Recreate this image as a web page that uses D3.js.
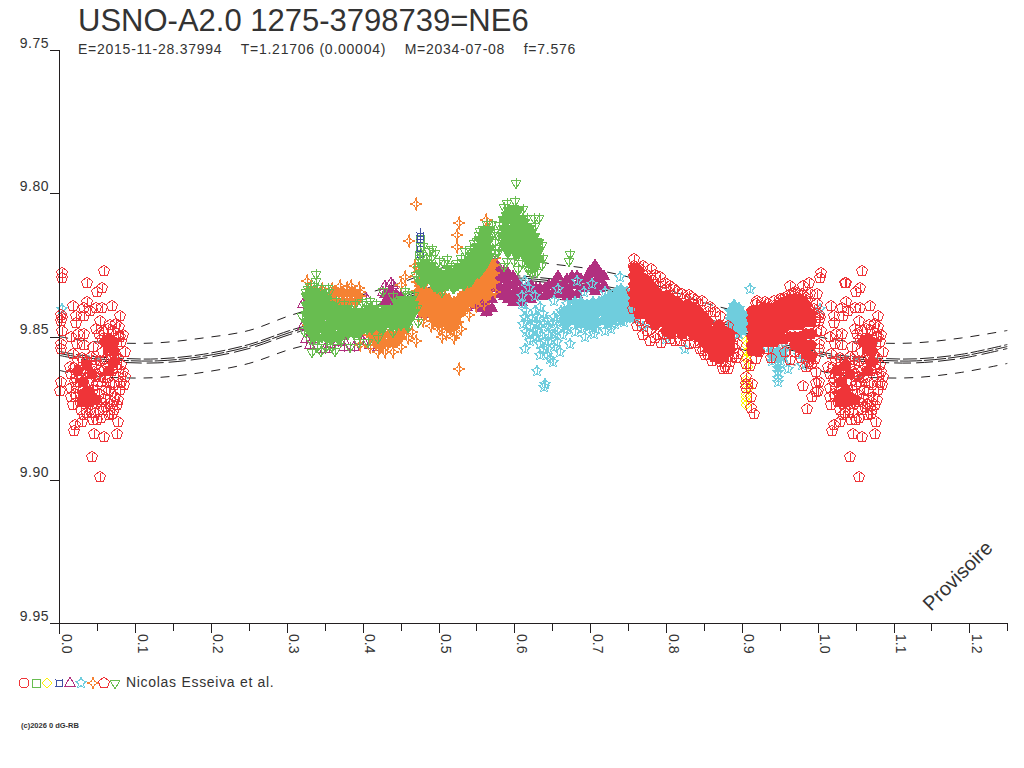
<!DOCTYPE html>
<html>
<head>
<meta charset="utf-8">
<title>USNO-A2.0 1275-3798739=NE6</title>
<script src="https://cdn.jsdelivr.net/npm/d3@7"></script>
<style>
body { margin: 0; background: #fff; }
text { font-family: "Liberation Sans", Arial, sans-serif; fill: #333; }
.mark { shape-rendering: crispEdges; stroke-width: 1; }
</style>
</head>
<body>
<div id="chart"></div>
<script>
// Texts and ticks
var title = "USNO-A2.0 1275-3798739=NE6";
var subtitle = "E=2015-11-28.37994    T=1.21706 (0.00004)    M=2034-07-08    f=7.576";
var author = "Nicolas Esseiva et al.";
var stamp = "(c)2026 0 dG-RB";
var watermark = "Provisoire";
var magTicks = [9.75, 9.80, 9.85, 9.90, 9.95];
var phaseTicks = [0, 0.1, 0.2, 0.3, 0.4, 0.5, 0.6, 0.7, 0.8, 0.9, 1.0, 1.1, 1.2];
var phaseMinorTicks = [0.05, 0.15, 0.25, 0.35, 0.45, 0.55, 0.65, 0.75, 0.85, 0.95, 1.05, 1.15, 1.25];

// Model curves, phase then magnitude
var modelPhase = [0, 0.03, 0.08, 0.13, 0.19, 0.25, 0.304, 0.35, 0.4, 0.45, 0.5, 0.55, 0.6, 0.65, 0.7, 0.75, 0.8, 0.85, 0.9, 0.95, 1];
var modelUpper = [9.85, 9.8514, 9.8523, 9.8522, 9.8505, 9.8479, 9.8427, 9.8392, 9.8354, 9.8313, 9.8264, 9.8236, 9.8229, 9.8247, 9.8264, 9.8292, 9.8333, 9.8382, 9.8417, 9.8462, 9.85];
var modelMidA = [9.8552, 9.8566, 9.8576, 9.8578, 9.8562, 9.8528, 9.8479, 9.8444, 9.8406, 9.8365, 9.8319, 9.8292, 9.8288, 9.8299, 9.8316, 9.8342, 9.8389, 9.8434, 9.8476, 9.8524, 9.8552];
var modelMidB = [9.8559, 9.8573, 9.8583, 9.8585, 9.8569, 9.8535, 9.8486, 9.8451, 9.8413, 9.8372, 9.8326, 9.8299, 9.8295, 9.8306, 9.8323, 9.8349, 9.8396, 9.8441, 9.8483, 9.8531, 9.8559];
var modelMidC = [9.8566, 9.858, 9.859, 9.8592, 9.8576, 9.8542, 9.8493, 9.8458, 9.842, 9.8379, 9.8333, 9.8306, 9.8302, 9.8313, 9.833, 9.8356, 9.8403, 9.8448, 9.849, 9.8538, 9.8566];
var modelLower = [9.8618, 9.8635, 9.8644, 9.8643, 9.8625, 9.8594, 9.8545, 9.8514, 9.8472, 9.8431, 9.8392, 9.8368, 9.8361, 9.8368, 9.8385, 9.8417, 9.8458, 9.85, 9.8545, 9.8586, 9.8618];

var squarePts = [[0.475, 9.8158], [0.476, 9.8184], [0.473, 9.8242], [0.474, 9.8215]];
var diamondPts = [[0.906, 9.8514], [0.906, 9.853], [0.907, 9.8555], [0.906, 9.857], [0.905, 9.858], [0.908, 9.8605], [0.906, 9.8653], [0.906, 9.8665], [0.909, 9.868], [0.906, 9.87], [0.905, 9.871], [0.906, 9.8725], [0.905, 9.874]];
var blueBoxPts = [[0.475, 9.815], [0.475, 9.8161], [0.475, 9.8196], [0.475, 9.8213]];
var trianglePts = [
  [0.388, 9.8537], [0.335, 9.851], [0.357, 9.8525], [0.321, 9.8385], [0.321, 9.8465], [0.537, 9.8398], [0.563, 9.8415],
  [0.404, 9.8365], [0.42, 9.8535], [0.427, 9.8345], [0.367, 9.852], [0.47, 9.8385], [0.375, 9.8515], [0.345, 9.8495], [0.4, 9.8515],
  [0.33, 9.853], [0.35, 9.8545], [0.375, 9.8535], [0.41, 9.853], [0.325, 9.851], [0.43, 9.8325], [0.44, 9.832], [0.437, 9.8315]
];
var starPts = [
  [0.641, 9.8665], [0.639, 9.8676], [0.63, 9.8622], [0.634, 9.8566], [0.647, 9.8578], [0.651, 9.8589], [0.643, 9.8566], [0.614, 9.8543],
  [0.66, 9.8555], [0.674, 9.8526], [0.693, 9.8503], [0.705, 9.8491], [0.61, 9.8387], [0.614, 9.8306], [0.619, 9.8329], [0.627, 9.8358],
  [0.658, 9.8335], [0.682, 9.8306], [0.702, 9.8317], [0.739, 9.8294], [0.61, 9.8358], [0.614, 9.8433], [0.621, 9.8468], [0.63, 9.848],
  [0.612, 9.8456], [0.619, 9.8491], [0.628, 9.8503], [0.636, 9.8497], [0.645, 9.8491], [0.654, 9.8491], [0.656, 9.852], [0.634, 9.8526],
  [0.621, 9.8514], [0.643, 9.8445], [0.652, 9.8433], [0.634, 9.8398], [0.627, 9.841], [0.662, 9.841], [0.669, 9.8387], [0.676, 9.8439],
  [0.691, 9.841], [0.698, 9.8462], [0.704, 9.8468], [0.717, 9.8445], [0.733, 9.8456], [0.753, 9.8422], [0.652, 9.8375], [0.63, 9.8433],
  [0.616, 9.841], [0.638, 9.8422], [0.656, 9.848], [0.911, 9.8335], [0.825, 9.8543], [0.933, 9.854], [0.945, 9.856], [0.955, 9.855],
  [0.948, 9.8625], [0.948, 9.8645], [0.948, 9.866], [0.961, 9.8612], [0.979, 9.86], [0.003, 9.8404], [0.891, 9.8393], [0.77, 9.8468],
  [0.776, 9.8455], [0.739, 9.844], [0.94, 9.8585], [0.952, 9.8585], [0.985, 9.857], [0.975, 9.8565], [0.692, 9.8345], [0.72, 9.8345],
  [0.748, 9.8345], [0.86, 9.8505], [0.855, 9.854], [0.8, 9.851], [0.617, 9.8445], [0.623, 9.8435], [0.628, 9.8455], [0.633, 9.8465],
  [0.639, 9.8455], [0.645, 9.8465], [0.65, 9.8455], [0.655, 9.8445], [0.66, 9.8425], [0.625, 9.8505], [0.64, 9.8515], [0.648, 9.8515],
  [0.664, 9.8495], [0.67, 9.8475], [0.68, 9.8485], [0.688, 9.8475], [0.616, 9.8485], [0.638, 9.8545], [0.645, 9.8545], [0.652, 9.8535],
  [0.72, 9.848], [0.728, 9.8475], [0.708, 9.8475], [0.745, 9.845]
];
var fourStarPts = [
  [0.47, 9.8036], [0.461, 9.8165], [0.527, 9.8103], [0.525, 9.8144], [0.524, 9.8188], [0.563, 9.8094], [0.527, 9.8614], [0.505, 9.85],
  [0.523, 9.849], [0.47, 9.8514], [0.465, 9.8485], [0.456, 9.8294], [0.379, 9.8329], [0.395, 9.8329], [0.326, 9.8306], [0.451, 9.832],
  [0.5, 9.8445], [0.515, 9.8475], [0.469, 9.8254], [0.397, 9.8345], [0.397, 9.8531], [0.455, 9.8465], [0.347, 9.8335], [0.33, 9.838],
  [0.335, 9.842], [0.34, 9.848], [0.328, 9.846], [0.345, 9.839], [0.55, 9.8205], [0.56, 9.8165], [0.567, 9.8125], [0.332, 9.8335],
  [0.338, 9.8345], [0.345, 9.8345], [0.35, 9.835], [0.47, 9.829], [0.474, 9.8275], [0.48, 9.8445], [0.49, 9.8465], [0.5, 9.8475],
  [0.51, 9.849], [0.52, 9.8505], [0.53, 9.8475], [0.54, 9.8425], [0.55, 9.8395], [0.56, 9.8385], [0.575, 9.8225], [0.575, 9.8345],
  [0.41, 9.8535], [0.42, 9.8555], [0.43, 9.8555], [0.44, 9.8555], [0.45, 9.8535], [0.46, 9.8505], [0.36, 9.8335], [0.37, 9.8325], [0.385, 9.8325]
];
var pentagonPts = [
  [0.004, 9.8277], [0.003, 9.8296], [0.059, 9.8273], [0.036, 9.8313], [0.037, 9.8315], [0.056, 9.8332], [0.05, 9.8345], [0.018, 9.8392],
  [0.037, 9.8381], [0.069, 9.8392], [0.002, 9.8425], [0.002, 9.8445], [0.003, 9.8435], [0.022, 9.843], [0.022, 9.8454], [0.033, 9.843],
  [0.032, 9.84], [0.04, 9.841], [0.049, 9.84], [0.056, 9.84], [0.08, 9.843], [0.054, 9.8445], [0.004, 9.848], [0.067, 9.846],
  [0.079, 9.8468], [0.032, 9.849], [0.024, 9.849], [0.016, 9.85], [0.002, 9.8525], [0.002, 9.8545], [0.002, 9.866], [0.001, 9.869],
  [0.021, 9.881], [0.019, 9.883], [0.03, 9.88], [0.046, 9.884], [0.059, 9.885], [0.076, 9.884], [0.077, 9.88], [0.043, 9.892],
  [0.054, 9.899], [0.05, 9.879], [0.055, 9.8785], [0.049, 9.8473], [0.075, 9.8458], [0.016, 9.8502], [0.023, 9.8525], [0.032, 9.8531],
  [0.045, 9.8537], [0.058, 9.8554], [0.073, 9.8572], [0.082, 9.86], [0.014, 9.8606], [0.016, 9.863], [0.021, 9.8658], [0.016, 9.871],
  [0.018, 9.874], [0.029, 9.8757], [0.036, 9.8768], [0.047, 9.8768], [0.058, 9.8757], [0.076, 9.874], [0.082, 9.8664], [0.08, 9.8687],
  [0.073, 9.871], [0.067, 9.8664], [0.061, 9.8687], [0.054, 9.8641], [0.016, 9.868], [0.047, 9.8583], [0.075, 9.86], [0.08, 9.8502],
  [0.082, 9.852], [0.066, 9.8549], [0.018, 9.856], [0.028, 9.8705], [0.041, 9.8755], [0.065, 9.8735], [0.084, 9.8625], [0.07, 9.877],
  [0.024, 9.8585], [0.03, 9.8575], [0.036, 9.859], [0.042, 9.857], [0.048, 9.86], [0.054, 9.8585], [0.02, 9.861], [0.028, 9.862],
  [0.034, 9.8615], [0.04, 9.863], [0.046, 9.8625], [0.052, 9.864], [0.058, 9.862], [0.022, 9.8645], [0.03, 9.865], [0.037, 9.866],
  [0.044, 9.8655], [0.05, 9.867], [0.056, 9.866], [0.06, 9.8645], [0.024, 9.868], [0.031, 9.869], [0.039, 9.8695], [0.045, 9.8685],
  [0.052, 9.87], [0.06, 9.8715], [0.066, 9.869], [0.072, 9.867], [0.021, 9.87], [0.027, 9.873], [0.034, 9.8735], [0.041, 9.8725],
  [0.048, 9.8735], [0.055, 9.873], [0.062, 9.8745], [0.07, 9.873], [0.033, 9.8775], [0.044, 9.879], [0.066, 9.8775], [0.072, 9.8755],
  [0.078, 9.872], [0.078, 9.864], [0.07, 9.862], [0.064, 9.861], [0.076, 9.861], [0.062, 9.858], [0.069, 9.8565], [0.078, 9.8575],
  [0.056, 9.851], [0.058, 9.848], [0.064, 9.8475], [0.071, 9.848], [0.077, 9.85], [0.052, 9.849], [0.086, 9.8555], [0.084, 9.8495],
  [0.085, 9.867], [0.086, 9.864],
  [0.758, 9.8231], [0.758, 9.8254], [0.766, 9.8265], [0.78, 9.8265], [0.792, 9.8294], [0.799, 9.8312], [0.805, 9.8323], [0.783, 9.8306],
  [0.821, 9.8352], [0.836, 9.8364], [0.847, 9.8375], [0.858, 9.8398], [0.871, 9.8427], [0.882, 9.8462], [0.889, 9.8502], [0.887, 9.8572],
  [0.882, 9.8612], [0.873, 9.859], [0.856, 9.8566], [0.849, 9.8549], [0.838, 9.8523], [0.812, 9.8514], [0.793, 9.8523], [0.779, 9.8514],
  [0.797, 9.8491], [0.766, 9.8445], [0.757, 9.8404], [0.755, 9.8341], [0.805, 9.8508], [0.827, 9.8497], [0.87, 9.8575], [0.885, 9.859],
  [0.878, 9.8605], [0.89, 9.854], [0.775, 9.848], [0.815, 9.8345], [0.83, 9.8355], [0.8, 9.8335], [0.842, 9.8385], [0.865, 9.8415],
  [0.762, 9.8465], [0.77, 9.8495], [0.785, 9.8505], [0.79, 9.8495], [0.81, 9.8485], [0.82, 9.8515], [0.83, 9.8525], [0.845, 9.8545],
  [0.852, 9.8565], [0.86, 9.8585], [0.865, 9.8565], [0.875, 9.8615], [0.892, 9.8575], [0.893, 9.8525], [0.895, 9.856], [0.77, 9.8255],
  [0.775, 9.8285], [0.785, 9.8285], [0.79, 9.8325], [0.81, 9.8335], [0.825, 9.8365], [0.84, 9.8375], [0.855, 9.8415],
  [0.92, 9.8375], [0.942, 9.8375], [0.957, 9.8381], [0.964, 9.8323], [0.98, 9.8323], [0.988, 9.8312], [0.968, 9.8352], [0.979, 9.8352],
  [0.99, 9.8352], [0.999, 9.8352], [0.999, 9.8387], [0.938, 9.8574], [0.963, 9.8583], [0.992, 9.8595], [0.998, 9.8624], [0.981, 9.8673],
  [0.992, 9.8711], [0.986, 9.8754], [0.9979, 9.8664], [0.9979, 9.8693], [0.985, 9.856], [0.996, 9.8578], [0.913, 9.8537], [0.985, 9.8607],
  [0.906, 9.8595], [0.911, 9.8604], [0.905, 9.864], [0.905, 9.8665], [0.905, 9.868], [0.913, 9.8665], [0.912, 9.871], [0.912, 9.875],
  [0.916, 9.877], [0.93, 9.838], [0.95, 9.837], [0.973, 9.8365], [0.984, 9.8365], [0.991, 9.8415], [0.997, 9.8445], [0.998, 9.8485],
  [0.918, 9.8385], [0.926, 9.8395], [0.935, 9.8385], [0.946, 9.8385], [0.955, 9.8365], [0.962, 9.8355], [0.97, 9.8345], [0.975, 9.835],
  [0.986, 9.8375], [0.995, 9.8405], [0.922, 9.8555], [0.918, 9.858], [0.934, 9.8545], [0.97, 9.8555], [0.978, 9.8575], [0.988, 9.859],
  [0.993, 9.8565], [0.957, 9.8555]
];
var invTrianglePts = [
  [0.602, 9.7965], [0.601, 9.8026], [0.586, 9.8048], [0.611, 9.8055], [0.626, 9.8086], [0.633, 9.8086], [0.594, 9.8074], [0.612, 9.8098],
  [0.578, 9.8145], [0.62, 9.8142], [0.673, 9.8213], [0.672, 9.8236], [0.62, 9.8268], [0.587, 9.8254], [0.605, 9.8265], [0.623, 9.828],
  [0.637, 9.825], [0.578, 9.8205], [0.491, 9.8196], [0.496, 9.8208], [0.48, 9.8184], [0.487, 9.8202], [0.511, 9.8231], [0.535, 9.8202],
  [0.544, 9.8208], [0.564, 9.8109], [0.555, 9.8132], [0.551, 9.8167], [0.57, 9.8109], [0.504, 9.8346], [0.52, 9.8329], [0.339, 9.8283],
  [0.339, 9.8306], [0.333, 9.8555], [0.345, 9.855], [0.364, 9.855], [0.383, 9.8537], [0.407, 9.852], [0.427, 9.834], [0.456, 9.834],
  [0.354, 9.8332], [0.328, 9.8335], [0.46, 9.8468], [0.399, 9.838], [0.405, 9.8387], [0.352, 9.8535], [0.372, 9.8515], [0.475, 9.8225],
  [0.478, 9.8215], [0.484, 9.8225], [0.49, 9.8225], [0.5, 9.8235], [0.507, 9.8245], [0.516, 9.8255], [0.525, 9.8245], [0.53, 9.8225],
  [0.541, 9.8195], [0.547, 9.8175], [0.553, 9.8145], [0.559, 9.8125], [0.566, 9.8125], [0.573, 9.8135], [0.575, 9.817], [0.575, 9.821],
  [0.473, 9.8265], [0.473, 9.83], [0.47, 9.8285], [0.325, 9.8345], [0.33, 9.8325], [0.336, 9.8325], [0.345, 9.833], [0.355, 9.8345],
  [0.365, 9.8375], [0.375, 9.8385], [0.39, 9.8385], [0.41, 9.8375], [0.418, 9.8385], [0.44, 9.836], [0.46, 9.835], [0.468, 9.8355],
  [0.472, 9.84], [0.473, 9.845], [0.44, 9.8485], [0.42, 9.8505], [0.395, 9.852], [0.36, 9.8535], [0.34, 9.8535], [0.33, 9.851],
  [0.322, 9.848], [0.32, 9.843], [0.58, 9.811], [0.583, 9.815], [0.58, 9.819], [0.59, 9.8235], [0.6, 9.8235], [0.61, 9.8245],
  [0.618, 9.8265], [0.63, 9.8275], [0.638, 9.8225], [0.636, 9.818], [0.627, 9.8115], [0.617, 9.8085], [0.59, 9.8035]
];

// Saturated regions where symbols pile up, as [phase, [mags]]
var triangleBlobs = [
  [0.43, [9.835, 9.838]], [0.437, [9.834, 9.837]], [0.444, [9.835, 9.838]], [0.45, [9.836]], [0.478, [9.839, 9.842]], [0.484, [9.839, 9.841]],
  [0.552, [9.836, 9.839]], [0.558, [9.835, 9.838, 9.84]], [0.564, [9.836, 9.839, 9.841]], [0.57, [9.837, 9.84]],
  [0.574, [9.824, 9.827, 9.83, 9.833]], [0.58, [9.826, 9.829, 9.832, 9.835]], [0.586, [9.827, 9.83, 9.833, 9.836]], [0.592, [9.828, 9.831, 9.834, 9.837]],
  [0.598, [9.829, 9.832, 9.835, 9.838]], [0.604, [9.831, 9.834, 9.837]], [0.61, [9.833, 9.836, 9.838]], [0.616, [9.833, 9.836]], [0.622, [9.832, 9.835, 9.837]],
  [0.628, [9.833, 9.836]], [0.634, [9.833, 9.836]], [0.64, [9.833, 9.836]], [0.646, [9.832, 9.835]], [0.652, [9.831, 9.834]], [0.658, [9.829, 9.832, 9.835]],
  [0.664, [9.832, 9.835]], [0.67, [9.83, 9.833, 9.836]], [0.676, [9.829, 9.832, 9.835]], [0.682, [9.829, 9.832, 9.835]], [0.688, [9.83, 9.833]],
  [0.694, [9.83, 9.833]], [0.7, [9.827, 9.83, 9.833]], [0.706, [9.825, 9.828, 9.831, 9.834]], [0.712, [9.827, 9.83, 9.833]], [0.718, [9.829, 9.832]]
];
var starBlobs = [
  [0.664, [9.842, 9.845]], [0.672, [9.84, 9.843]], [0.68, [9.838, 9.841, 9.844]], [0.688, [9.838, 9.841, 9.844]], [0.696, [9.839, 9.842, 9.845]],
  [0.704, [9.838, 9.841, 9.844]], [0.712, [9.838, 9.841]], [0.72, [9.837, 9.84, 9.843]], [0.728, [9.836, 9.839, 9.842]], [0.736, [9.834, 9.837, 9.84, 9.842]],
  [0.744, [9.835, 9.838, 9.841]], [0.752, [9.836, 9.839, 9.842]], [0.76, [9.84, 9.844]], [0.884, [9.841, 9.844, 9.847]], [0.89, [9.839, 9.842, 9.845, 9.848]],
  [0.896, [9.84, 9.843, 9.846, 9.849]], [0.902, [9.842, 9.845, 9.848]], [0.907, [9.843, 9.847]], [0.94, [9.855, 9.857]], [0.948, [9.855, 9.858, 9.861]],
  [0.956, [9.855, 9.857]], [0.982, [9.853, 9.857]], [0.99, [9.853]],
  [0.668, [9.8435, 9.8465]], [0.676, [9.8415, 9.8445]], [0.684, [9.8395, 9.8425, 9.8455]], [0.692, [9.8395, 9.8425, 9.8455]], [0.7, [9.8405, 9.8435, 9.8465]],
  [0.708, [9.8395, 9.8425, 9.8455]], [0.716, [9.8385, 9.8415, 9.8445]], [0.724, [9.8375, 9.8405, 9.8435, 9.8455]], [0.732, [9.8365, 9.8395, 9.8425, 9.8445]],
  [0.74, [9.8335, 9.8365, 9.8395, 9.8425, 9.8445]], [0.748, [9.8345, 9.8375, 9.8405, 9.8435]], [0.756, [9.8375, 9.8405, 9.8435]]
];
var fourStarBlobs = [
  [0.355, [9.836, 9.838]], [0.362, [9.835, 9.838]], [0.369, [9.835, 9.838]], [0.376, [9.835, 9.838]], [0.383, [9.835, 9.838]], [0.39, [9.835, 9.838]], [0.396, [9.836]],
  [0.412, [9.85]], [0.418, [9.85, 9.853]], [0.424, [9.85, 9.853]], [0.43, [9.849, 9.852]], [0.436, [9.849, 9.852]], [0.442, [9.85, 9.852]], [0.448, [9.849, 9.851]], [0.454, [9.848]],
  [0.472, [9.831, 9.834, 9.837, 9.84]], [0.478, [9.832, 9.835, 9.838, 9.841]], [0.484, [9.834, 9.837, 9.84, 9.842]], [0.49, [9.834, 9.837, 9.84, 9.843]],
  [0.496, [9.835, 9.838, 9.841, 9.844]], [0.502, [9.835, 9.838, 9.841, 9.844]], [0.508, [9.836, 9.839, 9.842, 9.845]], [0.514, [9.837, 9.84, 9.843, 9.846]],
  [0.52, [9.838, 9.841, 9.844, 9.847]], [0.526, [9.837, 9.84, 9.843, 9.845]], [0.532, [9.835, 9.838, 9.841]], [0.538, [9.833, 9.836, 9.839]], [0.544, [9.832, 9.835, 9.838]],
  [0.55, [9.83, 9.833, 9.836]], [0.556, [9.829, 9.832, 9.835]], [0.562, [9.827, 9.83, 9.833, 9.836]], [0.568, [9.826, 9.829, 9.832, 9.835]], [0.573, [9.825, 9.828, 9.831]],
  [0.475, [9.8325, 9.8355, 9.8385, 9.8415]], [0.481, [9.8335, 9.8365, 9.8395, 9.8425]], [0.487, [9.8355, 9.8385, 9.8415]], [0.493, [9.8365, 9.8395, 9.8425, 9.8445]],
  [0.499, [9.8365, 9.8395, 9.8425, 9.8455]], [0.505, [9.8375, 9.8405, 9.8435, 9.8455]], [0.511, [9.8385, 9.8415, 9.8445, 9.8465]], [0.517, [9.8385, 9.8415, 9.8445, 9.8475]],
  [0.523, [9.8395, 9.8425, 9.8455]], [0.529, [9.8365, 9.8395, 9.8425]], [0.535, [9.8345, 9.8375, 9.8405]], [0.541, [9.8335, 9.8365]], [0.547, [9.8315, 9.8345, 9.8375]],
  [0.553, [9.8305, 9.8335, 9.8365]], [0.559, [9.8285, 9.8315, 9.8345]], [0.565, [9.8265, 9.8295, 9.8325, 9.8355]], [0.571, [9.8255, 9.8285, 9.8315]],
  [0.3585, [9.8355, 9.8375]], [0.3655, [9.8345, 9.8375]], [0.3725, [9.8345, 9.8375]], [0.3795, [9.8345, 9.8375]], [0.3865, [9.8345, 9.8375]], [0.393, [9.8355, 9.8375]],
  [0.408, [9.8495]], [0.415, [9.8485, 9.8515]], [0.421, [9.8495, 9.8525]], [0.427, [9.8495, 9.8525]], [0.433, [9.8495, 9.8525]], [0.439, [9.8495, 9.8515]],
  [0.445, [9.8495, 9.8515]], [0.451, [9.8485, 9.8505]], [0.458, [9.8475]]
];
var pentagonBlobs = [
  [0.025, [9.862]], [0.03, [9.873]], [0.031, [9.866, 9.87]], [0.037, [9.86, 9.869, 9.873]], [0.043, [9.863, 9.871]], [0.049, [9.872]], [0.06, [9.852]], [0.066, [9.851, 9.854, 9.862]], [0.072, [9.852, 9.855, 9.859]],
  [0.758, [9.826, 9.829, 9.832, 9.835, 9.838]], [0.765, [9.827, 9.83, 9.833, 9.836, 9.839, 9.842]], [0.772, [9.83, 9.833, 9.836, 9.839, 9.842]], [0.779, [9.832, 9.835, 9.838, 9.841, 9.844]],
  [0.786, [9.834, 9.837, 9.84, 9.843, 9.846]], [0.793, [9.836, 9.839, 9.842, 9.845]], [0.8, [9.836, 9.839, 9.842, 9.845, 9.848]], [0.807, [9.837, 9.84, 9.843, 9.846, 9.849]],
  [0.814, [9.838, 9.841, 9.844, 9.847]], [0.821, [9.84, 9.843, 9.846, 9.849]], [0.828, [9.839, 9.842, 9.845, 9.848]], [0.835, [9.84, 9.843, 9.846, 9.849]],
  [0.842, [9.841, 9.844, 9.847, 9.85]], [0.849, [9.843, 9.846, 9.849, 9.852]], [0.856, [9.845, 9.848, 9.851, 9.854]], [0.863, [9.848, 9.851, 9.854, 9.857]],
  [0.87, [9.846, 9.849, 9.852, 9.855, 9.858]], [0.877, [9.848, 9.851, 9.854, 9.857]], [0.884, [9.849, 9.852, 9.855]],
  [0.914, [9.841, 9.844, 9.847, 9.85, 9.853, 9.855]], [0.921, [9.841, 9.844, 9.847, 9.85, 9.853, 9.855]], [0.928, [9.84, 9.843, 9.846, 9.849, 9.852]], [0.935, [9.84, 9.843, 9.846, 9.849, 9.852]],
  [0.942, [9.84, 9.843, 9.846, 9.849, 9.852]], [0.949, [9.839, 9.842, 9.845, 9.848, 9.851]], [0.956, [9.838, 9.841, 9.844, 9.847, 9.851]], [0.963, [9.837, 9.84, 9.843, 9.846, 9.85]],
  [0.97, [9.837, 9.84, 9.843, 9.846, 9.85, 9.853]], [0.977, [9.837, 9.84, 9.843, 9.846, 9.85, 9.854]], [0.984, [9.839, 9.842, 9.845, 9.849, 9.853, 9.856]], [0.991, [9.842, 9.845, 9.849, 9.853, 9.857]]
];
var invTriangleBlobs = [
  [0.325, [9.836, 9.839, 9.842, 9.845]], [0.332, [9.834, 9.837, 9.84, 9.843, 9.846, 9.849]], [0.339, [9.834, 9.837, 9.84, 9.843, 9.846, 9.849]], [0.346, [9.835, 9.838, 9.841, 9.844, 9.847, 9.85]],
  [0.353, [9.837, 9.84, 9.843, 9.846, 9.849, 9.851]], [0.36, [9.839, 9.842, 9.845, 9.848, 9.851]], [0.367, [9.84, 9.843, 9.846, 9.849, 9.851]], [0.374, [9.84, 9.843, 9.846, 9.849]],
  [0.381, [9.84, 9.843, 9.846, 9.849]], [0.388, [9.841, 9.844, 9.847, 9.849]], [0.395, [9.841, 9.844, 9.847, 9.849]], [0.402, [9.841, 9.844, 9.847]], [0.409, [9.84, 9.843, 9.846]],
  [0.416, [9.84, 9.843, 9.846]], [0.423, [9.841, 9.844, 9.847]], [0.43, [9.84, 9.843, 9.846]], [0.437, [9.84, 9.843, 9.846]], [0.444, [9.838, 9.841, 9.844, 9.846]],
  [0.451, [9.837, 9.84, 9.843, 9.846]], [0.458, [9.837, 9.84, 9.843, 9.846]], [0.465, [9.837, 9.84, 9.843]],
  [0.477, [9.825, 9.828, 9.831]], [0.484, [9.824, 9.827, 9.83]], [0.491, [9.825, 9.828, 9.831]], [0.498, [9.827, 9.83, 9.833]], [0.505, [9.828, 9.831, 9.833]], [0.512, [9.826, 9.829, 9.832]],
  [0.519, [9.827, 9.83, 9.833]], [0.526, [9.826, 9.829, 9.832]], [0.533, [9.824, 9.827, 9.83, 9.832]], [0.54, [9.823, 9.826, 9.829, 9.831]], [0.547, [9.82, 9.823, 9.826, 9.829]],
  [0.554, [9.816, 9.819, 9.822, 9.825, 9.828]], [0.561, [9.813, 9.816, 9.819, 9.822, 9.825]], [0.568, [9.813, 9.816, 9.819, 9.822]],
  [0.585, [9.809, 9.812, 9.815, 9.818]], [0.592, [9.806, 9.809, 9.812, 9.815, 9.818, 9.821]], [0.599, [9.805, 9.808, 9.811, 9.814, 9.817, 9.82]], [0.606, [9.806, 9.809, 9.812, 9.815, 9.818, 9.821]],
  [0.613, [9.81, 9.813, 9.816, 9.819, 9.822]], [0.62, [9.812, 9.815, 9.818, 9.821, 9.824]], [0.627, [9.815, 9.818, 9.821, 9.824, 9.826]], [0.632, [9.817, 9.82, 9.823]],
  [0.3285, [9.8355, 9.8385, 9.8415, 9.8445, 9.8475]], [0.3355, [9.8355, 9.8385, 9.8415, 9.8445, 9.8475, 9.8505]], [0.3425, [9.8355, 9.8385, 9.8415, 9.8445, 9.8475, 9.8505]],
  [0.3495, [9.8365, 9.8395, 9.8425, 9.8455, 9.8485]], [0.3565, [9.8385, 9.8415, 9.8445, 9.8475, 9.8505]], [0.3635, [9.8405, 9.8435, 9.8465, 9.8495]], [0.3705, [9.8415, 9.8445, 9.8475, 9.8505]],
  [0.3775, [9.8415, 9.8445, 9.8475]], [0.3845, [9.8415, 9.8445, 9.8475]], [0.3915, [9.8425, 9.8455, 9.8485]], [0.3985, [9.8425, 9.8455]], [0.4055, [9.8415, 9.8445, 9.8475]],
  [0.4125, [9.8415, 9.8445, 9.8475]], [0.4195, [9.8425, 9.8455]], [0.4265, [9.8415, 9.8445, 9.8475]], [0.4335, [9.8415, 9.8445]], [0.4405, [9.8405, 9.8435, 9.8465]],
  [0.4475, [9.8385, 9.8415, 9.8445]], [0.4545, [9.8385, 9.8415, 9.8445]], [0.4615, [9.8385, 9.8415, 9.8445]], [0.468, [9.8385, 9.8415]],
  [0.4805, [9.8255, 9.8285, 9.8315]], [0.4875, [9.8265, 9.8295]], [0.4945, [9.8265, 9.8295, 9.8325]], [0.5015, [9.8295, 9.8325]], [0.5085, [9.8285, 9.8315]], [0.5155, [9.8285, 9.8315]],
  [0.5225, [9.8275, 9.8305]], [0.5295, [9.8255, 9.8285, 9.8315]], [0.5365, [9.8245, 9.8275, 9.8305]], [0.5435, [9.8215, 9.8245, 9.8275, 9.8305]], [0.5505, [9.8185, 9.8215, 9.8245, 9.8275]],
  [0.5575, [9.8145, 9.8175, 9.8205, 9.8235, 9.8265]], [0.5645, [9.8145, 9.8175, 9.8205, 9.8235]],
  [0.5885, [9.8075, 9.8105, 9.8135, 9.8165, 9.8195]], [0.5955, [9.8065, 9.8095, 9.8125, 9.8155, 9.8185]], [0.6025, [9.8065, 9.8095, 9.8125, 9.8155, 9.8185, 9.8215]],
  [0.6095, [9.8085, 9.8115, 9.8145, 9.8175, 9.8205]], [0.6165, [9.8115, 9.8145, 9.8175, 9.8205, 9.8235]], [0.6235, [9.8135, 9.8165, 9.8195, 9.8225, 9.8255]], [0.63, [9.8165, 9.8195, 9.8225]]
];

var svg = d3.select("#chart").append("svg")
    .attr("width", 1024)
    .attr("height", 768);

var x = d3.scaleLinear().domain([0, 1.25]).range([59.3, 1007.3]);
var y = d3.scaleLinear().domain([9.75, 9.95]).range([50, 623]);

// Regular polygon or star around 0,0. Radii alternate when inner is given.
function radial(n, r, inner, start) {
    var pts = [];
    var count = inner ? n * 2 : n;
    for (var i = 0; i < count; i++) {
        var a = start + i * 2 * Math.PI / count;
        var rad = inner && i % 2 ? inner : r;
        pts.push([rad * Math.sin(a), -rad * Math.cos(a)]);
    }
    return "M" + pts.join("L") + "Z";
}
function errorBar(h) {
    return "M0," + (-h) + "V" + h;
}
var circleShape = d3.symbol().type(d3.symbolCircle).size(80)();
var squareShape = "M-4,-4H4V4H-4Z";
var diamondShape = radial(4, 5, 0, 0);
var blueBoxShape = "M-3,-3H3V3H-3Z M-4,-4L-3,-3 M4,-4L3,-3 M-4,4L-3,3 M4,4L3,3";
var triangleShape = radial(3, 6, 0, 0);
var starShape = radial(5, 6, 2.6, 0);
var fourStarShape = radial(4, 6, 2.2, 0);
var pentagonShape = radial(5, 5.8, 0, 0);
var invTriangleShape = radial(3, 6, 0, Math.PI);

// Folded phase: the first quarter of the cycle shows again after 1.0
function fold(points) {
    var out = points.slice();
    points.forEach(function (p) {
        if (p[0] <= 0.25) {
            out.push([p[0] + 1, p[1]]);
        }
    });
    return out;
}
function flatten(blobs) {
    var out = [];
    blobs.forEach(function (b) {
        b[1].forEach(function (m) {
            out.push([b[0], m]);
        });
    });
    return out;
}

// Model curves go under the points
var modelLine = d3.line()
    .x(function (d) { return x(d[0]); })
    .y(function (d) { return y(d[1]); })
    .curve(d3.curveCatmullRom);
function drawModel(values, dash) {
    var pts = modelPhase.map(function (p, i) { return [p, values[i]]; });
    modelPhase.forEach(function (p, i) {
        if (p > 0 && p <= 0.25) {
            pts.push([p + 1, values[i]]);
        }
    });
    svg.append("path")
        .attr("d", modelLine(pts))
        .attr("fill", "none")
        .attr("stroke", "#231f20")
        .attr("stroke-width", 1)
        .attr("stroke-dasharray", dash);
}
drawModel(modelUpper, "9,8");
drawModel(modelMidA, "14,3");
drawModel(modelMidB, "22,2");
drawModel(modelMidC, "17,5");
drawModel(modelLower, "9,8");

function drawMarks(points, shape, color, fill) {
    svg.append("g").selectAll("path")
        .data(fold(points))
        .join("path")
        .attr("class", "mark")
        .attr("d", shape)
        .attr("transform", function (d) { return "translate(" + Math.round(x(d[0])) + "," + Math.round(y(d[1])) + ")"; })
        .attr("fill", fill ? color : "none")
        .attr("stroke", color);
}
function drawSeries(points, blobs, shape, bar, color) {
    drawMarks(flatten(blobs), shape, color, true);
    drawMarks(points, shape + errorBar(bar), color, false);
}

var squareGreen = "#68bd50", yellow = "#fff200", blue = "#3f51a3", purple = "#b1307f",
    skyBlue = "#6fcddd", orange = "#f58233", red = "#ef3438";

drawMarks(squarePts, squareShape + errorBar(5), squareGreen, false);
drawMarks(diamondPts, diamondShape + errorBar(6), yellow, false);
drawMarks(blueBoxPts, blueBoxShape + errorBar(8), blue, false);
drawSeries(trianglePts, triangleBlobs, triangleShape, 5, purple);
drawSeries(starPts, starBlobs, starShape, 4, skyBlue);
drawSeries(fourStarPts, fourStarBlobs, fourStarShape, 7, orange);
drawSeries(pentagonPts, pentagonBlobs, pentagonShape, 4, red);
drawSeries(invTrianglePts, invTriangleBlobs, invTriangleShape, 5, squareGreen);

// Axes
var axisColor = "#231f20";
var yAxis = svg.append("g")
    .attr("transform", "translate(59,0)")
    .call(d3.axisLeft(y).tickValues(magTicks).tickSize(9).tickFormat(d3.format(".2f")));
var xAxis = svg.append("g")
    .attr("transform", "translate(0,623)")
    .call(d3.axisBottom(x).tickValues(phaseTicks).tickSize(10).tickFormat(d3.format(".1f")));
var xMinor = svg.append("g")
    .attr("transform", "translate(0,623)")
    .call(d3.axisBottom(x).tickValues(phaseMinorTicks).tickSize(8).tickFormat(""));

svg.selectAll(".domain").remove();
svg.append("line").attr("x1", 59.5).attr("x2", 59.5).attr("y1", 50).attr("y2", 634).attr("stroke", axisColor);
svg.append("line").attr("x1", 50).attr("x2", 1008).attr("y1", 623.5).attr("y2", 623.5).attr("stroke", axisColor);
svg.selectAll(".tick line").attr("stroke", axisColor).attr("shape-rendering", "crispEdges");

yAxis.selectAll("text")
    .style("font-size", "14px")
    .style("letter-spacing", "0.5px")
    .attr("x", -10)
    .attr("y", -3)
    .attr("dy", 0)
    .attr("text-anchor", "end");
xAxis.selectAll("text")
    .style("font-size", "14px")
    .attr("x", 0)
    .attr("y", 0)
    .attr("dy", 0)
    .attr("text-anchor", "start")
    .attr("transform", "translate(2,11) rotate(90)");

// Titles
svg.append("text").attr("x", 78).attr("y", 31).style("font-size", "31px").text(title);
svg.append("text").attr("x", 78).attr("y", 54).style("font-size", "14px").style("letter-spacing", "0.75px").style("white-space", "pre").text(subtitle);

// Legend row
var legendX = [24, 36, 47, 59, 70, 81, 93, 104, 115];
var legendShapes = [circleShape, squareShape, diamondShape, blueBoxShape, triangleShape, starShape, fourStarShape, pentagonShape, invTriangleShape];
var legendColors = [red, squareGreen, yellow, blue, purple, skyBlue, orange, red, squareGreen];
svg.append("g").selectAll("path")
    .data(legendShapes)
    .join("path")
    .attr("class", "mark")
    .attr("d", function (d) { return d; })
    .attr("transform", function (d, i) { return "translate(" + legendX[i] + ",683)"; })
    .attr("fill", "none")
    .attr("stroke", function (d, i) { return legendColors[i]; });

svg.append("text").attr("x", 126).attr("y", 687).style("font-size", "14px").style("letter-spacing", "0.7px").text(author);
svg.append("text").attr("x", 21).attr("y", 728).style("font-size", "7.5px").style("font-weight", "bold").text(stamp);
svg.append("text")
    .attr("transform", "translate(931,612) rotate(-45)")
    .style("font-size", "20px")
    .text(watermark);
</script>
</body>
</html>
